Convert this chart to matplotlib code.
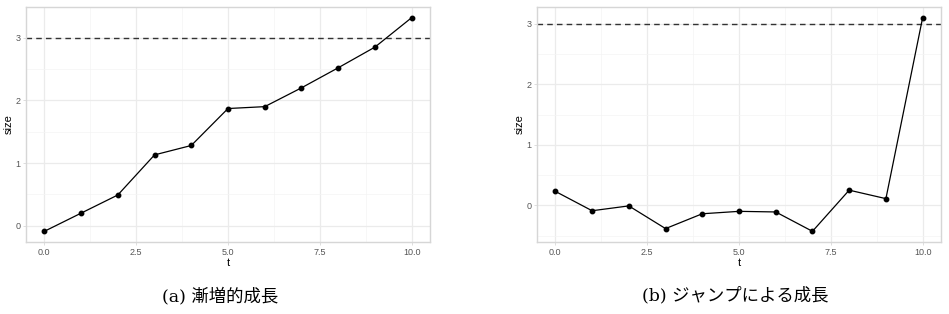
import numpy as np
import matplotlib.pyplot as plt
from matplotlib.ticker import MultipleLocator

###################################################################################################
# Data

t = [0, 1, 2, 3, 4, 5, 6, 7, 8, 9, 10]
size_gradual = [-0.09, 0.20, 0.49, 1.13, 1.28, 1.87, 1.90, 2.20, 2.52, 2.85, 3.32]
size_jump = [0.23, -0.09, -0.01, -0.385, -0.14, -0.10, -0.11, -0.43, 0.25, 0.11, 3.10]
threshold = 3
captions = ['(a) 漸増的成長', '(b) ジャンプによる成長']

###################################################################################################

plt.rcParams['font.family'] = ['Liberation Sans', 'DejaVu Sans']


def gg_limits(vals, mult=0.05):
    lo, hi = min(vals), max(vals)
    pad = (hi - lo) * mult
    return lo - pad, hi + pad


def plot_panel(ax, x, y, hline):
    """Draw one ggplot-like (theme_light) panel."""
    ax.plot(x, y, color='black', linewidth=0.9, marker='o', markersize=3.2, zorder=3)
    ax.axhline(hline, color='#333333', linestyle=(0, (4, 3)), linewidth=1.0, zorder=2)

    ax.set_xlim(*gg_limits(x))
    ax.set_ylim(*gg_limits(list(y) + [hline]))

    ax.xaxis.set_major_locator(MultipleLocator(2.5))
    ax.xaxis.set_minor_locator(MultipleLocator(1.25))
    ax.yaxis.set_major_locator(MultipleLocator(1))
    ax.yaxis.set_minor_locator(MultipleLocator(0.5))
    ax.xaxis.set_major_formatter(lambda v, p: f'{v:.1f}')
    ax.yaxis.set_major_formatter(lambda v, p: f'{v:.0f}')

    ax.grid(which='major', color='#ebebeb', linewidth=0.9)
    ax.grid(which='minor', color='#f4f4f4', linewidth=0.5)
    ax.set_axisbelow(True)

    for sp in ax.spines.values():
        sp.set_color('#d6d6d6')
        sp.set_linewidth(1.0)

    ax.tick_params(which='major', length=2, width=0.5, color='#d0d0d0',
                   labelsize=6.5, labelcolor='#555555', pad=2)
    ax.tick_params(which='minor', length=0)

    ax.set_xlabel('t', fontsize=8, labelpad=1)
    ax.set_ylabel('size', fontsize=8, labelpad=1)


W, H = 949, 314
fig = plt.figure(figsize=(W / 100, H / 100), dpi=100)

ax1 = fig.add_axes([26 / W, 1 - 242 / H, (430 - 26) / W, (242 - 7) / H])
ax2 = fig.add_axes([537 / W, 1 - 242 / H, (941 - 537) / W, (242 - 7) / H])

plot_panel(ax1, t, size_gradual, threshold)
plot_panel(ax2, t, size_jump, threshold)

cap_font = ['DejaVu Serif', 'Noto Sans CJK JP']
fig.text(220 / W, 1 - 296 / H, captions[0], ha='center', va='center',
         fontsize=12.5, family=cap_font)
fig.text(735 / W, 1 - 296 / H, captions[1], ha='center', va='center',
         fontsize=12.5, family=cap_font)

fig.savefig('out.png', dpi=100, facecolor='white')
